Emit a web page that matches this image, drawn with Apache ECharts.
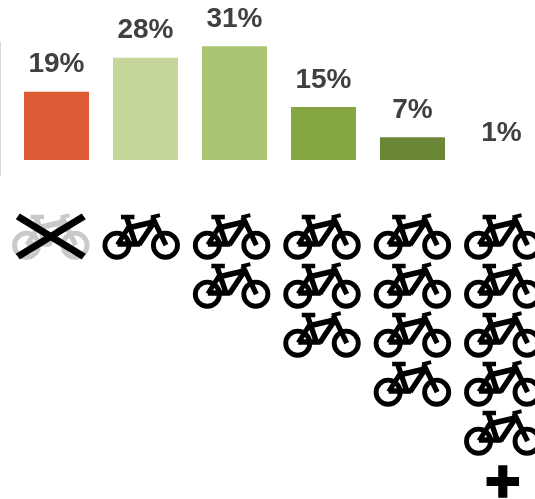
<!DOCTYPE html>
<html>
<head>
<meta charset="utf-8">
<style>html,body{margin:0;padding:0;background:#fff}#c{width:535px;height:499px}</style>
<script src="https://cdn.jsdelivr.net/npm/echarts@6/dist/echarts.min.js"></script>
</head>
<body>
<div id="c"></div>
<script>
const categories = ['none', 'one', 'two', 'three', 'four', 'fivePlus'];
const percentages = [19, 28, 31, 15, 7, 1];
const barColors = ['#DB5C34', '#C5D69B', '#ABC573', '#86A644', '#6C8637', '#6C8637'];
const bikeCounts = [1, 1, 2, 3, 4, 5];
const crossedColumns = [0];
const plusColumns = [5];

function seg(x1, y1, x2, y2, w) {
  const dx = x2 - x1, dy = y2 - y1, l = Math.hypot(dx, dy);
  const nx = -dy / l * w / 2, ny = dx / l * w / 2;
  return 'M' + (x1 + nx) + ' ' + (y1 + ny) + 'L' + (x2 + nx) + ' ' + (y2 + ny) +
         'L' + (x2 - nx) + ' ' + (y2 - ny) + 'L' + (x1 - nx) + ' ' + (y1 - ny) + 'Z';
}
function ring(cx, cy, r, inner) {
  return 'M' + (cx - r) + ' ' + cy + 'A' + r + ' ' + r + ' 0 1 0 ' + (cx + r) + ' ' + cy +
         'A' + r + ' ' + r + ' 0 1 0 ' + (cx - r) + ' ' + cy + 'Z' +
         'M' + (cx - inner) + ' ' + cy + 'A' + inner + ' ' + inner + ' 0 1 1 ' + (cx + inner) + ' ' + cy +
         'A' + inner + ' ' + inner + ' 0 1 1 ' + (cx - inner) + ' ' + cy + 'Z';
}
const bikePath = 'path://' + [
  ring(14.5, 32, 14.5, 9.6),
  ring(63, 32, 14.5, 9.6),
  seg(18.5, 3.8, 32, 3.8, 4.6),
  seg(24, 4, 33, 30.5, 5.4),
  seg(26.5, 14.5, 52, 8.5, 5.6),
  seg(26.5, 13.5, 15, 31.5, 5),
  seg(15, 30.8, 37.5, 30.8, 5.4),
  seg(51.5, 9, 36.5, 31.5, 5.4),
  seg(50, 4, 63.5, 32, 5.2),
  seg(48.5, 4.2, 57.5, 1.9, 3.8)
].join('');
const crossPath = 'path://' + [seg(2, 2, 66, 44, 7.2), seg(2, 44, 66, 2, 7.2)].join('');
const plusPath = 'path://' + [seg(16, 0, 16, 32, 9), seg(0, 16, 32, 16, 9)].join('');

const bikeData = [];
bikeCounts.forEach((n, col) => {
  for (let row = 0; row < n; row++) {
    bikeData.push({
      value: [col, row],
      itemStyle: { color: crossedColumns.includes(col) ? '#C9C9C9' : '#000', opacity: 1 }
    });
  }
});
const crossData = crossedColumns.map(col => [col, 0]);
const plusData = plusColumns.map(col => [col, bikeCounts[col]]);

const chart = echarts.init(document.getElementById('c'), null, { renderer: 'canvas' });
chart.setOption({
  animation: false,
  backgroundColor: '#fff',
  grid: [
    { left: 12, top: 46.3, width: 534, height: 113.7, outerBoundsMode: 'none' },
    { left: 5.6, top: 236.5, width: 542.4, height: 245, outerBoundsMode: 'none' },
    { left: 0.5, top: 42, width: 10, height: 134, outerBoundsMode: 'none' }
  ],
  xAxis: [
    { gridIndex: 0, type: 'category', data: categories, show: false },
    { gridIndex: 1, type: 'category', data: categories, show: false },
    { gridIndex: 2, type: 'value', min: 0, max: 1, show: false }
  ],
  yAxis: [
    { gridIndex: 0, type: 'value', min: 1, max: 31, show: false },
    { gridIndex: 1, type: 'value', min: 0, max: 5, inverse: true, show: false },
    {
      gridIndex: 2, type: 'value', min: 0, max: 1,
      axisLine: { show: true, onZero: false, lineStyle: { color: '#D9D9D9', width: 1 } },
      axisTick: { show: false }, axisLabel: { show: false }, splitLine: { show: false }
    }
  ],
  series: [
    {
      type: 'bar',
      xAxisIndex: 0, yAxisIndex: 0,
      barWidth: 65,
      data: percentages.map((v, i) => ({ value: v, itemStyle: { color: barColors[i] } })),
      label: {
        show: true, position: 'top', distance: 13,
        formatter: p => p.value + '%',
        color: '#404040', fontFamily: 'Liberation Sans, Arial, sans-serif',
        fontWeight: 'bold', fontSize: 28
      }
    },
    {
      type: 'scatter', xAxisIndex: 1, yAxisIndex: 1, clip: false,
      symbol: bikePath, symbolSize: [77.5, 46.5], data: bikeData
    },
    {
      type: 'scatter', xAxisIndex: 1, yAxisIndex: 1, clip: false,
      symbol: crossPath, symbolSize: [70, 46], itemStyle: { color: '#000', opacity: 1 }, data: crossData, z: 5
    },
    {
      type: 'scatter', xAxisIndex: 1, yAxisIndex: 1, clip: false,
      symbol: plusPath, symbolSize: [32.5, 32.5], itemStyle: { color: '#000', opacity: 1 }, data: plusData
    }
  ]
});
</script>
</body>
</html>
